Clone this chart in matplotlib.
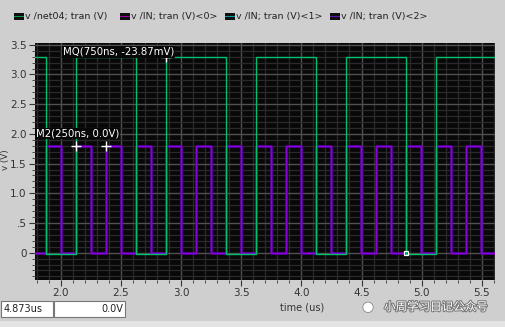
import matplotlib
matplotlib.use("Agg")
import matplotlib.pyplot as plt
from matplotlib.patches import Rectangle
from matplotlib.ticker import MultipleLocator
import matplotlib.patheffects as pe

# transition times (us) and levels (V), drawn as post-steps
net04_t = [1.785, 1.873, 2.124, 2.623, 2.873, 3.373, 3.623, 4.123, 4.373, 4.873, 5.123, 5.61]
net04_v = [3.3, -0.02, 3.3, -0.02, 3.3, -0.02, 3.3, -0.02, 3.3, -0.02, 3.3, 3.3]

in0_t = [1.785, 1.873, 1.998, 2.124, 2.249, 2.373, 2.498, 2.623, 2.748, 2.873, 2.998,
         3.123, 3.248, 3.373, 3.498, 3.623, 3.748, 3.873, 3.998, 4.123, 4.248, 4.373,
         4.498, 4.623, 4.748, 4.873, 4.998, 5.123, 5.248, 5.373, 5.495, 5.61]
in0_v = [0.0, 1.8, 0.0, 1.8, 0.0, 1.8, 0.0, 1.8, 0.0, 1.8, 0.0,
         1.8, 0.0, 1.8, 0.0, 1.8, 0.0, 1.8, 0.0, 1.8, 0.0, 1.8,
         0.0, 1.8, 0.0, 1.8, 0.0, 1.8, 0.0, 1.8, 0.0, 0.0]
in2_t = in0_t
in2_v = in0_v

legend_labels = ["v /net04; tran (V)", "v /IN; tran (V)<0>", "v /IN; tran (V)<1>", "v /IN; tran (V)<2>"]
legend_colors = ["#00a050", "#a000b0", "#00a0a0", "#6010c0"]

xticks = [2.0, 2.5, 3.0, 3.5, 4.0, 4.5, 5.0, 5.5]
yticks = [0.0, 0.5, 1.0, 1.5, 2.0, 2.5, 3.0, 3.5]
ytick_labels = ["0", ".5", "1.0", "1.5", "2.0", "2.5", "3.0", "3.5"]

cursor_t = [2.124, 2.373, 2.873]
cursor_v = [1.8, 1.8, 3.3]

bg = "#cfcfcf"
fig = plt.figure(figsize=(5.06, 3.27), dpi=100, facecolor=bg)
ax = fig.add_axes([35 / 506, 1 - 280 / 327, 460 / 506, 237 / 327])
ax.set_facecolor("#080808")

# grid
ax.xaxis.set_major_locator(MultipleLocator(0.5))
ax.xaxis.set_minor_locator(MultipleLocator(0.1))
ax.yaxis.set_major_locator(MultipleLocator(0.5))
ax.yaxis.set_minor_locator(MultipleLocator(0.1))
ax.grid(which="minor", color="#2a2a2a", lw=0.9)
ax.grid(which="major", color="#505050", lw=1.0)
ax.set_axisbelow(True)

ax.step(in2_t, in2_v, where="post", color="#5500a0", lw=1.8)
ax.step(in0_t, in0_v, where="post", color="#8a00dd", lw=1.0)
ax.step(net04_t, net04_v, where="post", color="#00c070", lw=1.0)

ax.plot(cursor_t, cursor_v, "+", color="white", ms=7, mew=1.0)
ax.plot([4.873], [0.0], "s", mfc="none", mec="white", ms=3.5, mew=0.9)

ax.text(2.015, 3.38, "MQ(750ns, -23.87mV)", color="white", fontsize=7.3,
        va="center", ha="left", bbox=dict(fc="#080808", ec="none", pad=0.5))
ax.text(1.79, 2.01, "M2(250ns, 0.0V)", color="white", fontsize=7.3,
        va="center", ha="left", bbox=dict(fc="#080808", ec="none", pad=0.5))

ax.set_xlim(1.785, 5.61)
ax.set_ylim(-0.46, 3.53)
ax.set_xticks(xticks)
ax.set_xticklabels([f"{x:.1f}" for x in xticks])
ax.set_yticks(yticks)
ax.set_yticklabels(ytick_labels)
ax.tick_params(which="both", colors="#333333", labelsize=7.5, direction="out")
ax.tick_params(which="major", length=4, pad=2)
ax.tick_params(which="minor", length=2)
for s in ax.spines.values():
    s.set_visible(False)

fig.text(6 / 506, 1 - 160 / 327, "v (V)", rotation=90, fontsize=6.3, color="#333333",
         ha="center", va="center")
fig.text(302 / 506, 1 - 307 / 327, "time (us)", fontsize=7, color="#333333",
         ha="center", va="center")

# legend strip
xs = [14, 120, 225, 330]
for x0, lab, col in zip(xs, legend_labels, legend_colors):
    fig.patches.append(Rectangle((x0 / 506, 1 - 20 / 327), 10 / 506, 7 / 327,
                                 transform=fig.transFigure, fc="#101010", ec="none"))
    fig.patches.append(Rectangle((x0 / 506, 1 - 17 / 327), 10 / 506, 1.5 / 327,
                                 transform=fig.transFigure, fc=col, ec="none"))
    fig.text((x0 + 11) / 506, 1 - 16.5 / 327, lab, fontsize=6.8, color="#222222",
             ha="left", va="center")

# status boxes
fig.patches.append(Rectangle((1 / 506, 1 - 317 / 327), 52 / 506, 16 / 327,
                             transform=fig.transFigure, fc="white", ec="#777777", lw=0.8))
fig.patches.append(Rectangle((54 / 506, 1 - 317 / 327), 71 / 506, 16 / 327,
                             transform=fig.transFigure, fc="white", ec="#777777", lw=0.8))
fig.text(4 / 506, 1 - 309 / 327, "4.873us", fontsize=7, color="#222222", va="center")
fig.text(123 / 506, 1 - 309 / 327, "0.0V", fontsize=7, color="#222222", va="center", ha="right")
fig.patches.append(Rectangle((0, 0), 1, 6 / 327, transform=fig.transFigure,
                             fc="#e4e4e4", ec="none"))

# watermark
fig.text(384 / 506, 1 - 307 / 327, "小周学习日记公众号", fontsize=8.3, color="white",
         family=["Noto Sans CJK SC", "DejaVu Sans"], va="center", ha="left",
         path_effects=[pe.withStroke(linewidth=1.5, foreground="#777777")])
fig.text(368 / 506, 1 - 307 / 327, "●", fontsize=9, color="white", va="center", ha="center",
         path_effects=[pe.withStroke(linewidth=1.2, foreground="#888888")])

fig.savefig("out.png", dpi=100, facecolor=bg)
